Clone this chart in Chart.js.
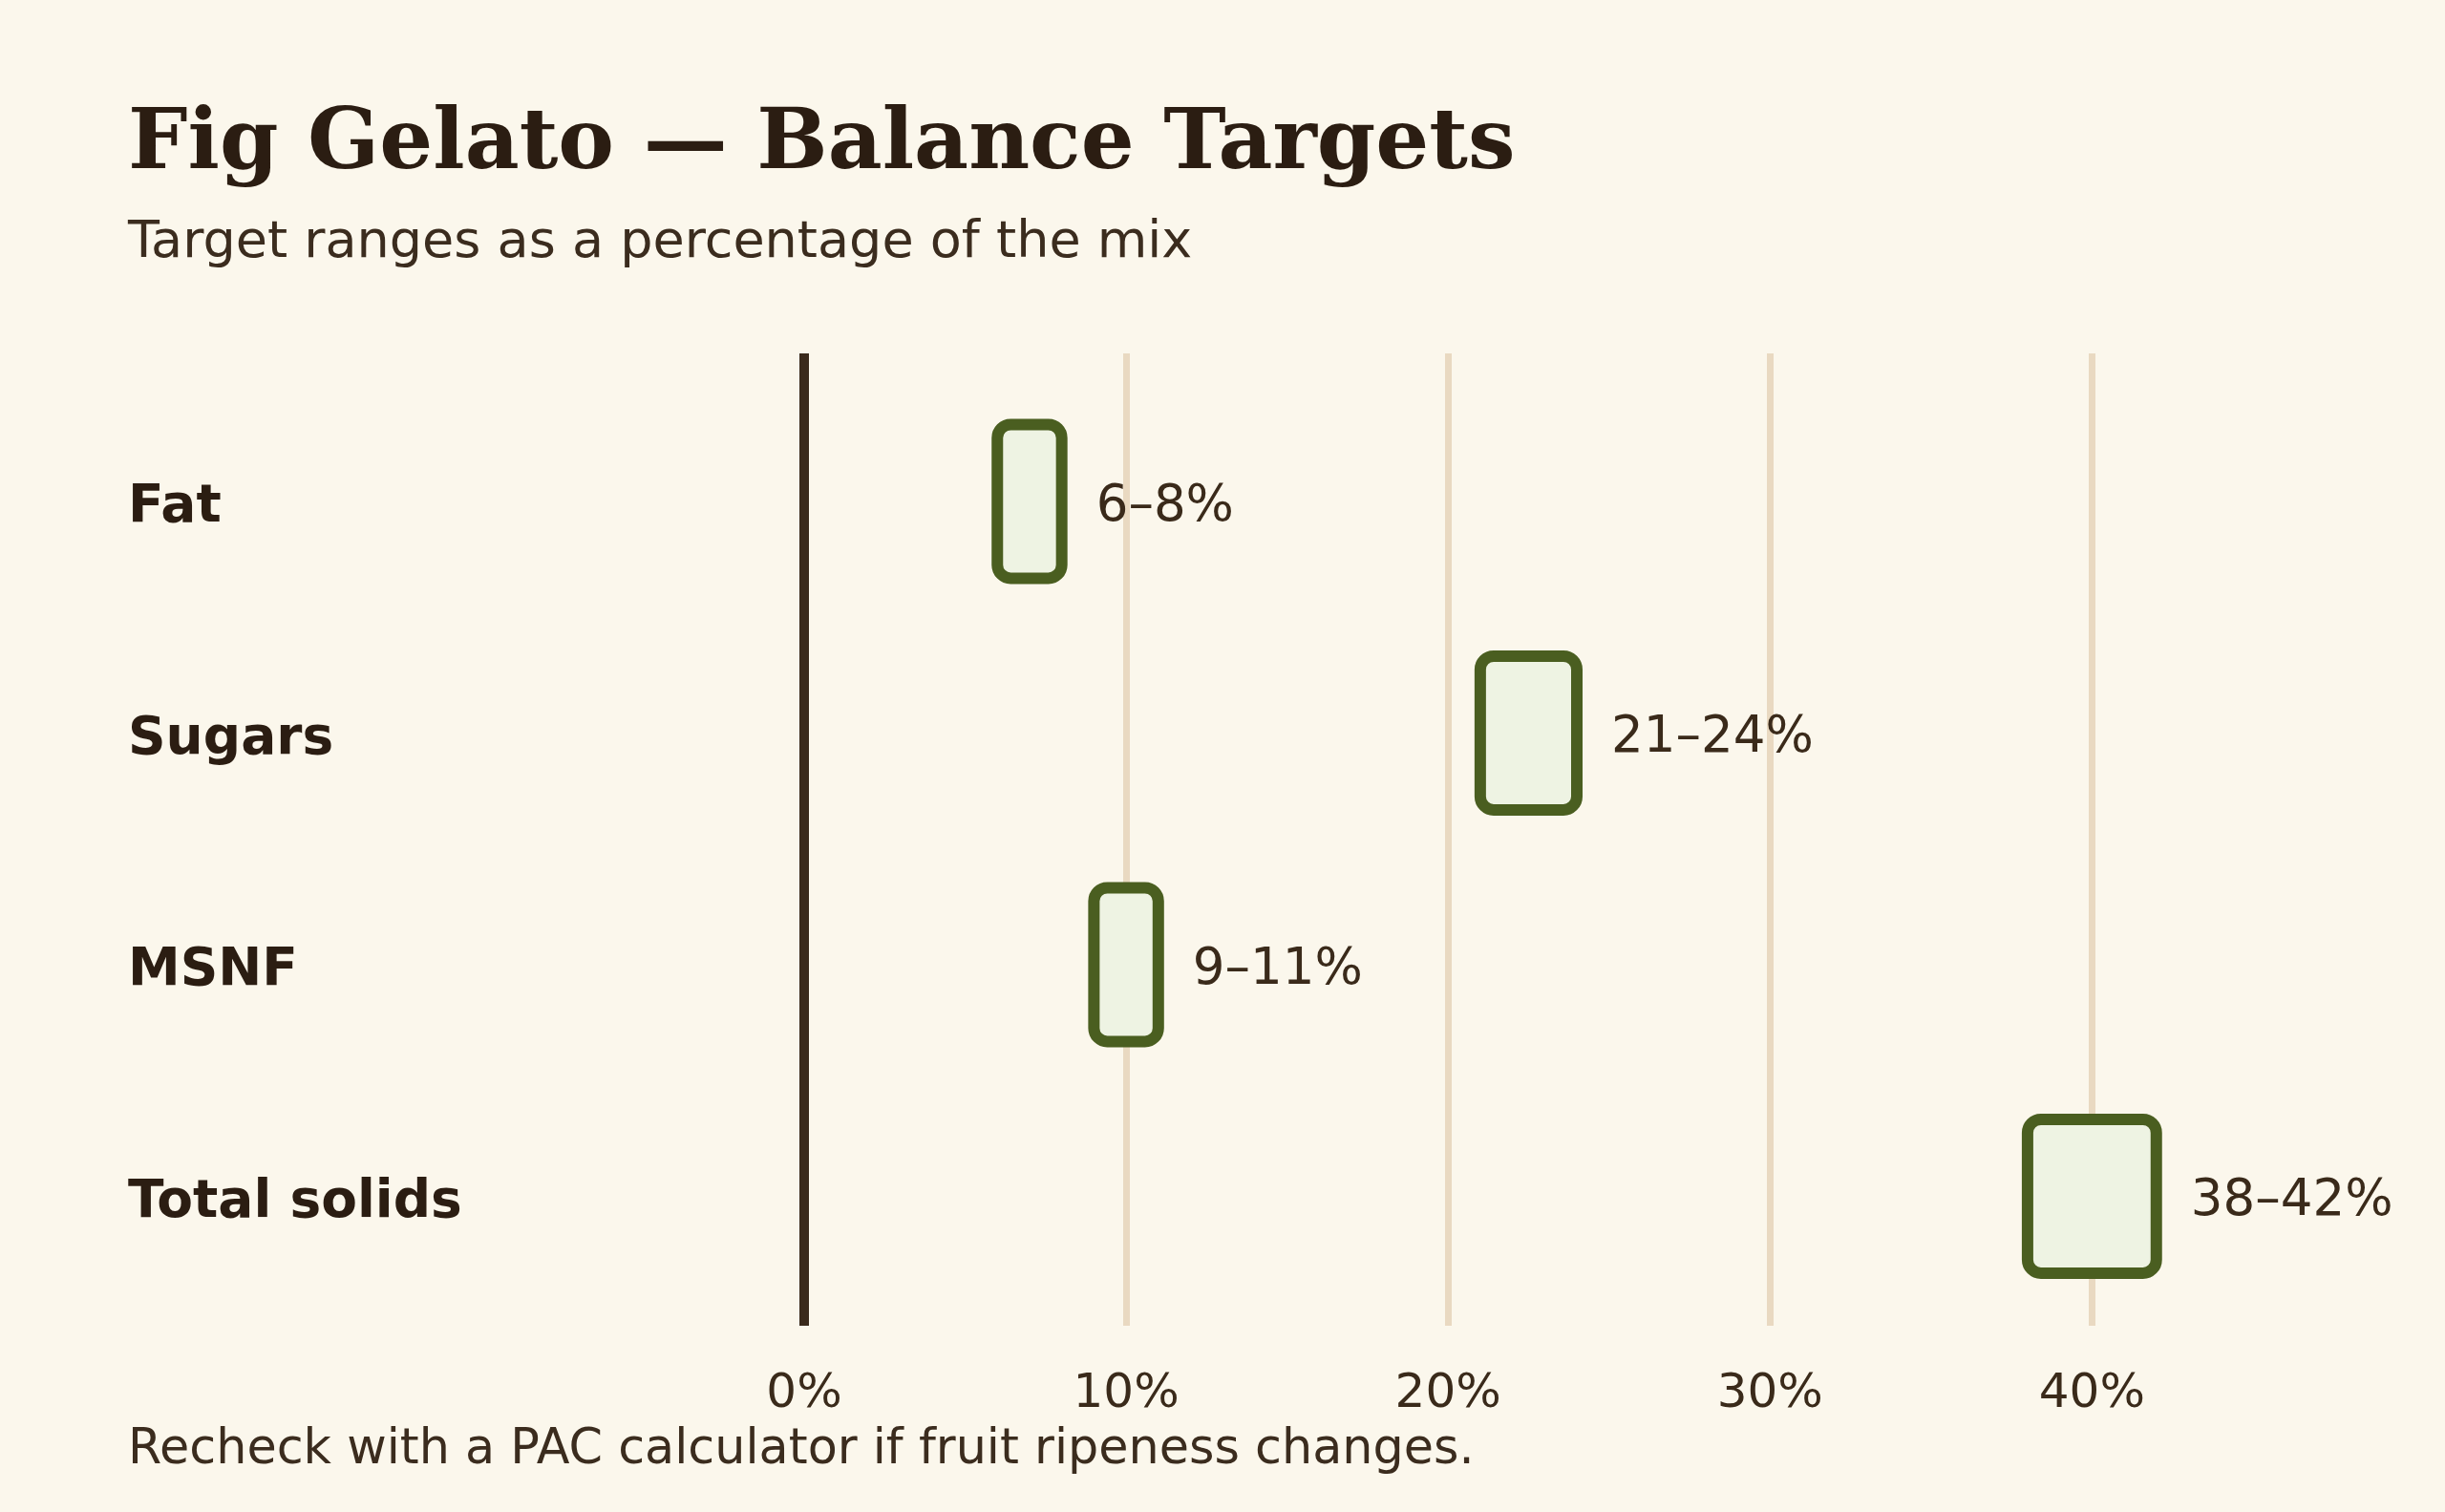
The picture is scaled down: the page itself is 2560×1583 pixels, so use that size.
<!DOCTYPE html>
<html>
<head>
<meta charset="utf-8">
<title>Fig Gelato — Balance Targets</title>
<script src="https://cdn.jsdelivr.net/npm/chart.js@4"></script>
<style>
  html, body { margin: 0; padding: 0; background: #fbf7ec; }
  #wrap { position: relative; width: 2560px; height: 1583px; overflow: hidden; }
  #chart { position: absolute; left: 0; top: 0; }
  .txt { position: absolute; left: 134px; margin: 0; line-height: 1; white-space: nowrap; }
  #title { top: 93px; font: bold 88px 'DejaVu Serif', serif; color: #2b1d12; }
  #subtitle { top: 219px; font: 54px 'DejaVu Sans', sans-serif; color: #3b2c1e; }
  #footer { top: 1485px; font: 50.8px 'DejaVu Sans', sans-serif; color: #3b2c1e; }
</style>
</head>
<body>
<div id="wrap">
  <canvas id="chart" width="2560" height="1583"></canvas>
  <h1 class="txt" id="title">Fig Gelato — Balance Targets</h1>
  <p class="txt" id="subtitle">Target ranges as a percentage of the mix</p>
  <p class="txt" id="footer">Recheck with a PAC calculator if fruit ripeness changes.</p>
</div>
<script>
// target ranges, % of mix
const categories = ['Fat', 'Sugars', 'MSNF', 'Total solids'];
const lows = [6, 21, 9, 38];
const highs = [8, 24, 11, 42];
const xTicks = [0, 10, 20, 30, 40];

const ink = '#2b1d12';
const barLine = '#4a5e20';

// outline centred on the range ends + the "a–b%" label
const rangeDecor = {
    id: 'rangeDecor',
    afterDatasetsDraw(chart) {
        const ctx = chart.ctx;
        const meta = chart.getDatasetMeta(0);
        meta.data.forEach((bar, i) => {
            const p = bar.getProps(['x', 'y', 'base', 'height'], true);
            const left = Math.min(p.base, p.x);
            const right = Math.max(p.base, p.x);
            const top = p.y - p.height / 2;
            const h = p.height;
            const r = 14;
            ctx.save();
            ctx.beginPath();
            ctx.moveTo(left + r, top);
            ctx.lineTo(right - r, top);
            ctx.arcTo(right, top, right, top + r, r);
            ctx.lineTo(right, top + h - r);
            ctx.arcTo(right, top + h, right - r, top + h, r);
            ctx.lineTo(left + r, top + h);
            ctx.arcTo(left, top + h, left, top + h - r, r);
            ctx.lineTo(left, top + r);
            ctx.arcTo(left, top, left + r, top, r);
            ctx.closePath();
            ctx.lineWidth = 12;
            ctx.strokeStyle = barLine;
            ctx.stroke();

            ctx.font = '53px "DejaVu Sans"';
            ctx.fillStyle = '#3a2a1a';
            ctx.textAlign = 'left';
            ctx.textBaseline = 'alphabetic';
            ctx.fillText(`${lows[i]}–${highs[i]}%`, right + 36, p.y + 20);
            ctx.restore();
        });
    }
};

const ctx = document.getElementById('chart');
new Chart(ctx, {
    type: 'bar',
    data: {
        datasets: [{
            label: 'Target range',
            data: categories.map((c, i) => ({ x: [lows[i], highs[i]], y: i })),
            backgroundColor: '#eef3e3',
            borderWidth: 0,
            borderRadius: 14,
            borderSkipped: false,
            barThickness: 161
        }]
    },
    options: {
        indexAxis: 'y',
        responsive: false,
        animation: false,
        events: [],
        layout: { padding: { left: 134, right: 100, top: 370, bottom: 0 } },
        plugins: {
            legend: { display: false },
            tooltip: { enabled: false }
        },
        scales: {
            x: {
                type: 'linear',
                min: 0,
                max: 48,
                afterBuildTicks: (s) => { s.ticks = xTicks.map(v => ({ value: v })); },
                afterFit: (s) => { s.height = 195; },
                border: { display: false },
                grid: {
                    drawTicks: false,
                    color: (c) => c.tick && c.tick.value === 0 ? '#3a2a1c' : '#e9d9c1',
                    lineWidth: (c) => c.tick && c.tick.value === 0 ? 10 : 7
                },
                ticks: {
                    padding: 42,
                    color: '#3a2a1a',
                    font: { family: 'DejaVu Sans', size: 50 },
                    callback: (v) => v + '%'
                }
            },
            y: {
                type: 'linear',
                reverse: true,
                offset: false,
                min: -0.639,
                max: 3.559,
                afterBuildTicks: (s) => { s.ticks = categories.map((c, i) => ({ value: i })); },
                afterFit: (s) => { s.width = 708; },
                border: { display: false },
                grid: { display: false, offset: false },
                ticks: {
                    crossAlign: 'far',
                    labelOffset: 7,
                    color: ink,
                    font: { family: 'DejaVu Sans', size: 55, weight: 'bold' },
                    callback: (v) => categories[v] ?? ''
                }
            }
        }
    },
    plugins: [rangeDecor]
});
</script>
</body>
</html>
